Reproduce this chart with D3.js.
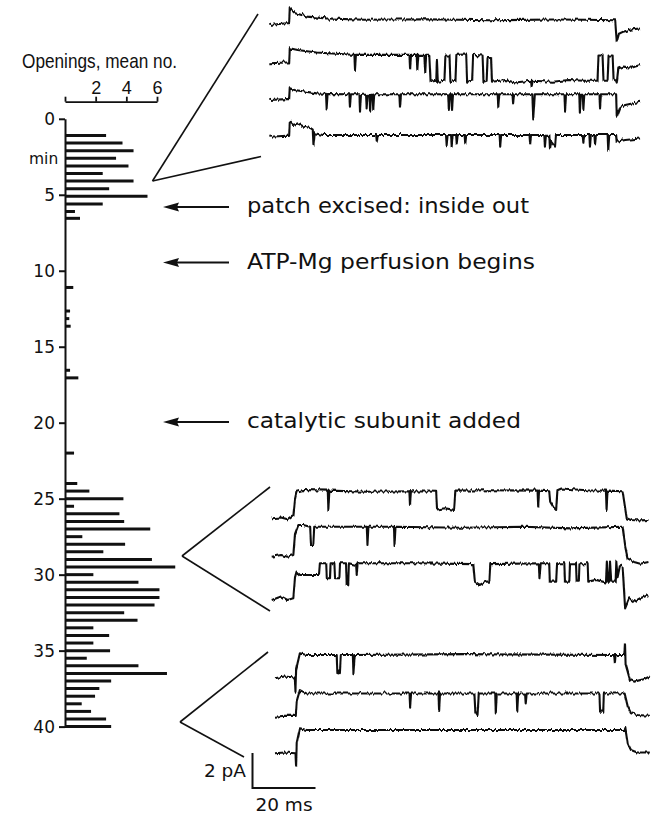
<!DOCTYPE html>
<html><head><meta charset="utf-8">
<script src="https://cdn.jsdelivr.net/npm/d3@7"></script>
<style>
html,body{margin:0;padding:0;background:#fff;}
svg{display:block;}
</style></head>
<body>
<svg id="chart" width="654" height="815"></svg>
<script>
// ---------- histogram data ----------
const barMinutes = [1.1,1.6,2.1,2.6,3.1,3.6,4.1,4.6,5.1,5.6,6.1,6.55,
  11.1,12.65,13.15,13.65,16.55,17.05,22.0,
  24.0,24.5,25.0,25.5,26.0,26.5,27.0,27.5,28.0,28.5,29.0,29.5,30.0,30.5,31.0,31.5,32.0,
  32.5,33.0,33.5,34.0,34.5,35.0,35.5,36.0,36.5,37.0,37.5,38.0,38.5,39.0,39.5,40.0];
const barOpenings = [2.68,3.75,4.47,3.33,4.14,2.46,4.47,2.88,5.38,2.46,0.65,0.98,
  0.54,0.33,0.28,0.37,0.33,0.87,0.59,
  0.80,1.59,3.81,0.59,3.55,3.86,5.56,1.13,3.92,2.50,5.67,7.19,1.85,4.79,6.16,6.16,5.84,
  3.86,4.73,1.85,2.88,1.85,2.94,1.42,4.79,6.65,3.01,2.24,1.96,1.09,1.70,2.68,3.01];
const minuteTicks = [0,5,10,15,20,25,30,35,40];
const openingTicks = [0,2,4,6];
const annotations = [
  {min: 5.8, text: "patch excised: inside out"},
  {min: 9.45, text: "ATP-Mg perfusion begins"},
  {min: 19.95, text: "catalytic subunit added"}
];

// ---------- single-channel traces: [ms, pA] ----------
const topTrace1 = [[0,0],[5.5,0.1],[6.3,0.1],[6.5,0.95],[8.2,0.67],[12,0.48],[18,0.38],[30,0.3],[50,0.33],[70,0.27],[90,0.31],[100,0.3],[109.8,0.27],[110.3,-0.95],[111,-0.5],[112.4,-0.38],[115,-0.25],[117.7,-0.2]];
const topTrace2 = [[0,0],[5.5,0.05],[6.3,0.05],[6.5,0.86],[9,0.76],[15,0.62],[25,0.5],[27.0,0.48],[27.2,-0.38],[27.5,0.48],[44.5,0.48],[44.7,-0.29],[45,0.48],[46.8,0.48],[47,-0.38],[47.3,0.48],[49.2,0.48],[49.5,-0.48],[49.8,0.48],[50.8,0.48],[51.2,-1.05],[53,-1.0],[53.2,0.2],[53.5,-1.05],[55.6,-1.0],[55.9,0.45],[57.2,0.45],[57.5,-1.05],[59.1,-1.0],[59.4,0.48],[62.5,0.5],[62.8,-1.05],[64.4,-1.0],[64.7,0.48],[67.7,0.45],[68.0,-1.05],[69.0,-1.0],[69.3,0.3],[70.4,0.3],[70.7,-1.05],[75,-0.95],[78,-1.1],[83.1,-1.0],[83.3,-1.3],[83.6,-1.0],[90,-1.05],[95,-0.95],[100,-1.0],[104.2,-1.0],[104.5,0.45],[105.8,0.45],[106.1,-1.0],[107.4,-1.0],[107.7,0.45],[109.0,0.45],[109.3,-0.9],[110.1,-1.0],[110.3,-1.1],[110.8,-0.3],[112.4,-0.19],[115,-0.25],[117.7,-0.1]];
const topTrace3 = [[0,0],[5.5,0.05],[6.3,0.05],[6.5,0.67],[8,0.57],[15,0.38],[18.0,0.36],[18.2,-0.48],[18.5,0.34],[25.4,0.33],[25.6,-0.38],[25.9,0.33],[28.6,0.33],[28.8,-0.67],[29.1,0.3],[30.7,0.3],[30.9,-0.48],[31.2,0.3],[31.8,0.3],[32.0,-0.67],[32.3,0.3],[32.8,0.3],[33.0,-0.57],[33.3,0.33],[41.3,0.33],[41.5,-0.38],[41.8,0.33],[56.8,0.33],[57.0,-0.57],[57.3,0.33],[57.8,0.33],[58.0,-0.57],[58.3,0.33],[72.5,0.33],[72.7,-0.38],[73.0,0.33],[77.2,0.33],[77.4,-0.19],[77.7,0.33],[83.5,0.33],[83.8,-1.05],[84.3,0.33],[93.7,0.33],[93.9,-0.67],[94.2,0.33],[98.4,0.33],[98.6,-0.67],[98.9,0.3],[99.5,0.3],[99.7,-0.57],[100,0.33],[104.8,0.33],[105.0,-0.48],[105.3,0.33],[110.1,0.33],[110.3,-0.95],[111.5,-0.38],[113,-0.29],[117.7,-0.1]];
const topTrace4 = [[0,0],[5.5,0.05],[6.3,0.05],[6.5,0.86],[7.5,0.67],[9,0.76],[11,0.57],[13,0.5],[13.8,0.4],[14.0,-0.48],[14.4,0.2],[17,0.1],[33.9,0.1],[34.1,-0.29],[34.4,0.1],[56.1,0.1],[56.3,-0.48],[56.6,0.1],[57.7,0.1],[57.9,-0.57],[58.2,0.1],[59.3,0.1],[59.5,-0.38],[59.8,0.1],[62.0,0.1],[62.2,-0.38],[62.5,0.1],[73.1,0.1],[73.3,-0.57],[73.6,0.1],[82.6,0.1],[82.8,-0.38],[83.1,0.1],[87.3,0.1],[87.5,-0.57],[87.8,0.05],[88.9,0.05],[89.1,-0.67],[89.5,-0.3],[90.7,-0.57],[91.0,0.1],[99.5,0.1],[99.7,-0.29],[100,0.1],[101.6,0.1],[101.8,-0.57],[102.1,0.1],[103.2,0.1],[103.4,-0.38],[103.7,0.1],[107.4,0.1],[107.6,-0.76],[107.9,0.1],[110.1,0.1],[110.3,-0.29],[113,-0.19],[117.7,-0.1]];

const midTrace1 = [[0,0],[3,0.05],[5,-0.05],[6.9,0.19],[7.4,1.1],[7.9,1.52],[10,1.62],[17.8,1.58],[18.0,0.48],[18.3,1.58],[30,1.52],[43.7,1.55],[43.9,0.76],[44.2,1.55],[52.2,1.52],[52.5,0.5],[55,0.57],[57.9,0.48],[58.3,1.58],[70,1.6],[84.4,1.58],[84.6,0.67],[84.9,1.58],[88.1,1.55],[88.4,0.95],[89.5,0.62],[90.3,0.48],[90.7,1.6],[92,1.7],[100,1.6],[106.1,1.58],[106.3,0.48],[106.6,1.58],[111.4,1.55],[112.7,0],[114,-0.1],[117,-0.12],[119.6,-0.1]];
const midTrace2 = [[0,0],[3,0.1],[5,0],[6.87,0.1],[7.4,1.3],[8.46,1.81],[10,1.81],[12.2,1.71],[12.5,0.67],[13.2,0.67],[13.5,1.71],[30.2,1.71],[30.4,0.67],[30.7,1.71],[38.8,1.71],[39.0,0.67],[39.3,1.71],[60,1.65],[80,1.71],[95,1.62],[111.4,1.71],[112.2,0.6],[113,-0.1],[115,-0.3],[117,-0.4],[119.6,-0.3]];
const midTrace3 = [[0,0],[3,0.2],[5,0],[6.87,0.1],[7.4,1.3],[7.9,1.62],[9,1.43],[15.0,1.43],[15.3,2.1],[17.3,2.1],[17.5,1.24],[18.5,1.24],[18.7,2.1],[19.9,2.1],[20.1,1.24],[21.5,1.24],[21.7,2.1],[23.6,2.1],[23.8,0.86],[24.3,0.9],[24.5,2.1],[26.8,2.0],[27.0,1.43],[27.3,2.1],[45,2.1],[64.0,2.05],[64.5,1.05],[66,0.86],[68,1.05],[69.1,1.05],[69.4,2.05],[84.8,2.1],[85.0,1.24],[85.4,2.1],[88.1,2.1],[88.3,1.05],[90.3,1.05],[90.6,2.1],[92.9,2.1],[93.1,1.05],[94.5,1.05],[94.7,2.1],[96.6,2.1],[96.8,1.05],[97.5,1.05],[97.7,2.1],[100.3,2.1],[100.5,1.05],[103,1.15],[106.1,1.0],[106.4,2.2],[106.8,1.05],[107.2,1.05],[107.4,2.2],[107.8,1.05],[109.2,1.05],[109.4,2.2],[109.8,1.3],[110.6,2.0],[111.4,1.9],[112.2,-0.48],[113.5,0.1],[115,-0.1],[117,0.1],[119.6,0.29]];

const botTrace1 = [[0,0],[3,0.1],[6.3,0.05],[6.5,-0.76],[6.7,0.5],[7.9,1.43],[10,1.33],[19.6,1.33],[19.8,0.29],[20.2,0.5],[20.6,0.29],[20.9,1.33],[24.7,1.33],[24.9,0.29],[25.3,1.33],[60,1.38],[107.7,1.33],[107.9,0.86],[108.1,1.33],[110.9,1.33],[111.1,2.0],[111.3,0.8],[112.7,-0.1],[114,-0.19],[117,-0.05],[119,0.1]];
const botTrace2 = [[0,0],[3,0.05],[6.6,0.05],[6.9,0.9],[7.9,1.52],[10,1.33],[42.7,1.33],[42.9,0.57],[43.2,1.33],[51.9,1.33],[52.1,0.38],[52.4,1.33],[63.3,1.33],[63.6,0.29],[64.3,0.1],[64.7,1.33],[69.9,1.33],[70.1,0.19],[70.4,1.33],[76.7,1.33],[76.9,0.29],[77.2,1.33],[79.4,1.33],[79.6,0.76],[79.9,1.33],[103.0,1.33],[103.2,0.29],[104.2,0.29],[104.4,1.33],[111.0,1.33],[112,0.57],[113,0.2],[115,0.1],[119,0.05]];
const botTrace3 = [[0,0],[3,0.05],[6.5,0],[6.7,-0.76],[6.9,0.6],[7.9,1.43],[10,1.33],[60,1.33],[111.0,1.33],[111.2,1.5],[112,0.57],[113,0.19],[115,0.05],[119,0.05]];

const scaleBarMs = 20, scaleBarPA = 2;

// ---------- drawing ----------
const svg = d3.select("#chart");
const ink = "#111";
const SANS = "'Liberation Sans', Arial, sans-serif";
const GEO = "'DejaVu Sans', sans-serif";

// recording-noise texture (style only): vertical-only displacement of the trace strokes
const defs = svg.append("defs");
const f = defs.append("filter").attr("id","rough").attr("filterUnits","userSpaceOnUse")
  .attr("x",0).attr("y",0).attr("width",654).attr("height",815);
f.append("feTurbulence").attr("type","fractalNoise").attr("baseFrequency","0.42 0.04").attr("numOctaves",2).attr("seed",7).attr("result","n");
f.append("feColorMatrix").attr("in","n").attr("type","matrix")
  .attr("values","0 0 0 0 0.5  0 1 0 0 0  0 0 0 0 0  0 0 0 0 1").attr("result","m");
f.append("feDisplacementMap").attr("in","SourceGraphic").attr("in2","m").attr("scale",5).attr("xChannelSelector","R").attr("yChannelSelector","G");

const yMin = d3.scaleLinear().domain([0,40]).range([118.8, 726.6]);
const xOpen = d3.scaleLinear().domain([0,6]).range([65, 157]);

// title
svg.append("text").attr("x",22).attr("y",68).attr("font-family",SANS).attr("font-size",21)
  .attr("textLength",155).attr("lengthAdjust","spacingAndGlyphs").attr("fill",ink).text("Openings, mean no.");

// top axis
const topAx = svg.append("g").attr("transform","translate(0,101.7)")
  .call(d3.axisTop(xOpen).tickValues(openingTicks).tickFormat(d => d === 0 ? "" : d).tickSize(5).tickSizeOuter(0).tickPadding(3));
topAx.selectAll("path,line").attr("stroke",ink).attr("stroke-width",1.8);
topAx.selectAll("text").attr("font-family",SANS).attr("font-size",18).attr("fill",ink);

// left axis
const leftAx = svg.append("g").attr("transform","translate(65,0)")
  .call(d3.axisLeft(yMin).tickValues(minuteTicks).tickSize(6).tickSizeOuter(0).tickPadding(4));
leftAx.selectAll("path,line").attr("stroke",ink).attr("stroke-width",2);
leftAx.selectAll("text").attr("font-family",GEO).attr("font-size",17).attr("fill",ink);
svg.append("text").attr("x",29).attr("y",164).attr("font-family",GEO).attr("font-size",15.5).attr("fill",ink).text("min");

// bars
svg.append("g").selectAll("line").data(barMinutes).join("line")
  .attr("x1", xOpen(0)).attr("x2",(d,i)=>xOpen(barOpenings[i]))
  .attr("y1", d=>yMin(d)).attr("y2", d=>yMin(d))
  .attr("stroke",ink).attr("stroke-width",3);

// annotations
const ann = svg.append("g");
const annWidths = [282, 288, 274];
annotations.forEach((a,i) => {
  const y = yMin(a.min);
  ann.append("line").attr("x1",170).attr("x2",229).attr("y1",y).attr("y2",y).attr("stroke",ink).attr("stroke-width",2);
  ann.append("path").attr("d",`M163,${y} L179,${y-4.5} L177,${y} L179,${y+4.5} Z`).attr("fill",ink);
  ann.append("text").attr("x",247).attr("y",y+6.5).attr("font-family",GEO).attr("font-size",21).attr("fill",ink)
    .attr("textLength",annWidths[i]).attr("lengthAdjust","spacingAndGlyphs").text(a.text);
});

// trace groups
const pxPerMs = 3.15, pxPerPA = 17.5;
const groups = [
  {x0: 269.3, apex:[152.5,181], ends:[[258,14],[261,156.5]], traces:[[topTrace1,25],[topTrace2,63.3],[topTrace3,100],[topTrace4,136.7]]},
  {x0: 271.7, apex:[182,556], ends:[[270,487],[270,611]], traces:[[midTrace1,518.3],[midTrace2,556.7],[midTrace3,600]]},
  {x0: 275,   apex:[180,722], ends:[[268,652],[244,757]], traces:[[botTrace1,678.3],[botTrace2,716.7],[botTrace3,753.3]]}
];
const tg = svg.append("g").attr("filter","url(#rough)");
groups.forEach(g => {
  const x = d3.scaleLinear().domain([0,1]).range([g.x0, g.x0 + pxPerMs]);
  g.traces.forEach(([data, yPre]) => {
    const y = d3.scaleLinear().domain([0,1]).range([yPre, yPre - pxPerPA]);
    tg.append("path").datum(data)
      .attr("d", d3.line().x(d=>x(d[0])).y(d=>y(d[1])))
      .attr("fill","none").attr("stroke",ink).attr("stroke-width",2.1).attr("stroke-linejoin","round");
  });
  g.ends.forEach(e => {
    svg.append("line").attr("x1",g.apex[0]).attr("y1",g.apex[1]).attr("x2",e[0]).attr("y2",e[1])
      .attr("stroke",ink).attr("stroke-width",1.6);
  });
});

// scale bar
const sbX = 252.5, sbY = 788;
svg.append("path").attr("d",`M${sbX},${sbY - scaleBarPA*pxPerPA} L${sbX},${sbY} L${sbX + scaleBarMs*pxPerMs},${sbY}`)
  .attr("fill","none").attr("stroke",ink).attr("stroke-width",2);
svg.append("text").attr("x",246).attr("y",777).attr("text-anchor","end").attr("font-family",GEO).attr("font-size",18.5).attr("fill",ink).text(scaleBarPA + " pA");
svg.append("text").attr("x",284).attr("y",811).attr("text-anchor","middle").attr("font-family",GEO).attr("font-size",18.5).attr("fill",ink).text(scaleBarMs + " ms");
</script>
</body></html>
